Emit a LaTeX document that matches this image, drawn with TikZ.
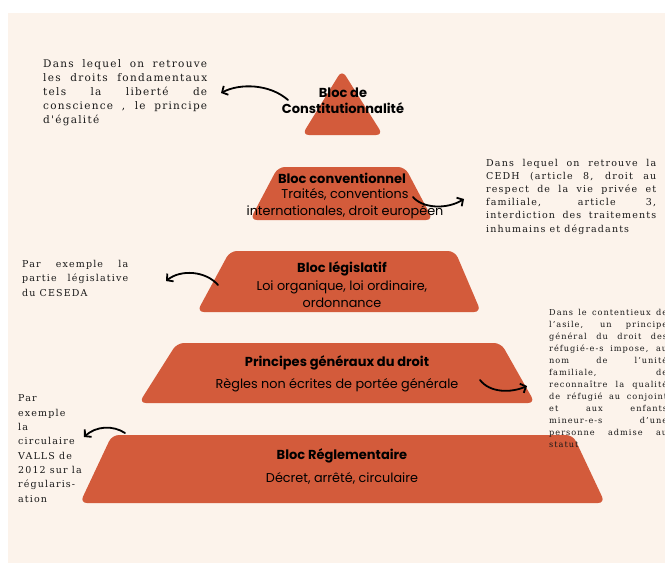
\documentclass[tikz,border=0pt]{standalone}
\usepackage{fontspec}
\usetikzlibrary{arrows.meta}
\newfontfamily\pyrfont{Poppins}
\newfontfamily\sidefont[LetterSpace=12]{DejaVu Serif}
\definecolor{cream}{RGB}{252,243,235}
\definecolor{brick}{RGB}{211,91,59}
\definecolor{ink}{RGB}{25,25,25}
\hyphenpenalty=10000
\begin{document}
\begin{tikzpicture}[x=1pt,y=-1pt,
  tier/.style={fill=brick, rounded corners=7pt},
  head/.style={font=\pyrfont\bfseries\fontsize{13}{16}\selectfont, text=black, inner sep=0pt, anchor=base, align=center},
  body/.style={font=\pyrfont\fontsize{12.8}{17}\selectfont, text=black, inner sep=0pt, anchor=base, align=center},
  side/.style={text=ink, inner sep=0pt, anchor=base west, align=justify},
  link/.style={line width=1.8pt, -{Straight Barb[length=4.5pt,width=10pt]}, line cap=round}
]
\useasboundingbox (0,0) rectangle (665,563);
\clip (0,0) rectangle (665,563);
\fill[white] (0,0) rectangle (665,563);
\fill[cream] (8,13) rectangle (665,563);

% pyramid tiers
\fill[tier] (342,70) -- (383,135) -- (302,135) -- cycle;
\fill[tier] (278,167) -- (405,167) -- (433,220) -- (250,220) -- cycle;
\fill[tier] (230,251) -- (455,251) -- (481,312) -- (197,312) -- cycle;
\fill[tier] (177,343) -- (501,343) -- (535,403) -- (139,403) -- cycle;
\fill[tier] (112,435) -- (573,435) -- (605,503) -- (80,503) -- cycle;

% tier texts (multi-line nodes are anchored on their last line)
\node[head] (h1) at (343,113) {Bloc de\\Constitutionnalité};
\node[head] (h2) at (342,183) {Bloc conventionnel};
\node[body] (b2) at (345,215) {Traités, conventions\\internationales, droit européen};
\node[head] (h3) at (342,272) {Bloc législatif};
\node[body] (b3) at (342,307) {Loi organique, loi ordinaire,\\ordonnance};
\node[head] (h4) at (337,366) {Principes généraux du droit};
\node[body] (b4) at (337,388) {Règles non écrites de portée générale};
\node[head] (h5) at (342,459) {Bloc Réglementaire};
\node[body] (b5) at (342,482) {Décret, arrêté, circulaire};

% side texts
\node[side, text width=164pt, font=\sidefont\fontsize{10.5}{14}\selectfont] (s1) at (43,67)
  {Dans lequel on retrouve\linebreak les droits fondamentaux\linebreak tels la liberté de\linebreak conscience , le principe\linebreak d'égalité};
\node[side, text width=170pt, font=\sidefont\fontsize{9.5}{13.2}\selectfont] (s2) at (486,166)
  {Dans lequel on retrouve la\linebreak CEDH (article 8, droit au\linebreak respect de la vie privée et\linebreak familiale, article 3,\linebreak interdiction des traitements\linebreak inhumains et dégradants};
\node[side, text width=106pt, font=\sidefont\fontsize{9.5}{14.5}\selectfont] (s3) at (22,267)
  {Par exemple la\linebreak partie législative\linebreak du CESEDA};
\node[side, text width=118pt, font=\sidefont\fontsize{8.2}{12}\selectfont] (s4) at (549,315)
  {Dans le contentieux de\linebreak l’asile, un principe\linebreak général du droit des\linebreak réfugié-e-s impose, au\linebreak nom de l’unité\linebreak familiale, de\linebreak reconnaître la qualité\linebreak de réfugié au conjoint\linebreak et aux enfants\linebreak mineur-e-s d’une\linebreak personne admise au\linebreak statut};
\node[side, align=left, font=\sidefont\fontsize{9.5}{14.3}\selectfont] (s5) at (18,502)
  {Par\\exemple\\la\\circulaire\\VALLS de\\2012 sur la\\régularis-\\ation};

% arrows
\coordinate (a1s) at (288,100); \coordinate (a1e) at (221,93);
\coordinate (a2s) at (413,197); \coordinate (a2e) at (464,199);
\coordinate (a3s) at (218,285); \coordinate (a3e) at (166,281);
\coordinate (a4s) at (480,380); \coordinate (a4e) at (527,386);
\coordinate (a5s) at (125,433); \coordinate (a5e) at (84,437);
\draw[link] (a1s) .. controls (270,84) and (240,83) .. (a1e);
\draw[link] (a2s) .. controls (422,208) and (446,210) .. (a2e);
\draw[link] (a3s) .. controls (206,271) and (181,269) .. (a3e);
\draw[link] (a4s) .. controls (490,393) and (511,393) .. (a4e);
\draw[link] (a5s) .. controls (113,425) and (96,426) .. (a5e);
\end{tikzpicture}
\end{document}
